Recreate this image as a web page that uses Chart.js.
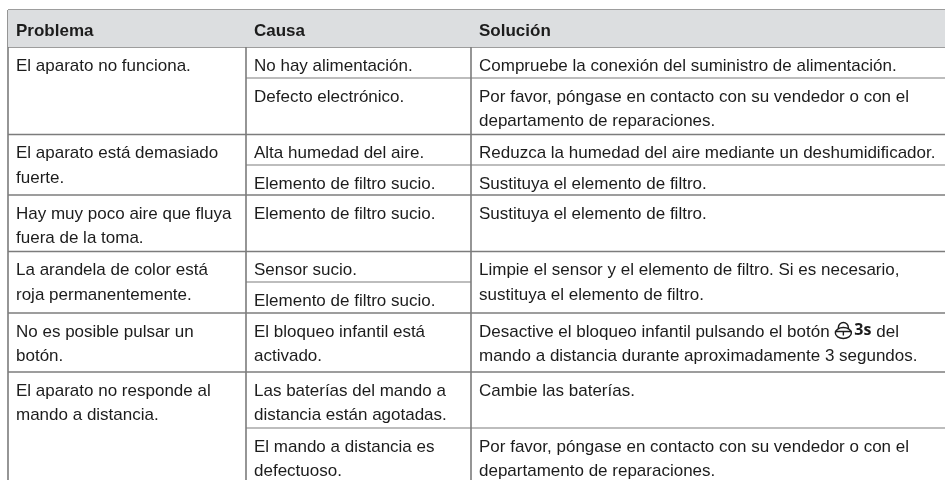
<!DOCTYPE html>
<html>
<head>
<meta charset="utf-8">
<style>
    html, body { margin: 0; padding: 0; background: #fff; }
    #wrap { width: 945px; height: 480px; }
</style>
<script src="https://cdn.jsdelivr.net/npm/chart.js@4"></script>
</head>
<body>
<div id="wrap"><canvas id="tableChart" width="945" height="480"></canvas></div>
<script>
// ============================================
// Table content
// ============================================

const headers = ['Problema', 'Causa', 'Solución'];

const problems = [
    ['El aparato no funciona.'],
    ['El aparato está demasiado', 'fuerte.'],
    ['Hay muy poco aire que fluya', 'fuera de la toma.'],
    ['La arandela de color está', 'roja permanentemente.'],
    ['No es posible pulsar un', 'botón.'],
    ['El aparato no responde al', 'mando a distancia.']
];

const causes = [
    ['No hay alimentación.'],
    ['Defecto electrónico.'],
    ['Alta humedad del aire.'],
    ['Elemento de filtro sucio.'],
    ['Elemento de filtro sucio.'],
    ['Sensor sucio.'],
    ['Elemento de filtro sucio.'],
    ['El bloqueo infantil está', 'activado.'],
    ['Las baterías del mando a', 'distancia están agotadas.'],
    ['El mando a distancia es', 'defectuoso.']
];

const solutions = [
    ['Compruebe la conexión del suministro de alimentación.'],
    ['Por favor, póngase en contacto con su vendedor o con el', 'departamento de reparaciones.'],
    ['Reduzca la humedad del aire mediante un deshumidificador.'],
    ['Sustituya el elemento de filtro.'],
    ['Sustituya el elemento de filtro.'],
    ['Limpie el sensor y el elemento de filtro. Si es necesario,', 'sustituya el elemento de filtro.'],
    ['Desactive el bloqueo infantil pulsando el botón', 'mando a distancia durante aproximadamente 3 segundos.'],
    ['Cambie las baterías.'],
    ['Por favor, póngase en contacto con su vendedor o con el', 'departamento de reparaciones.']
];

// Glyph that follows the first line of the "Desactive" cell
const buttonLabel = '3s';
const buttonTail = 'del';

// ============================================
// Layout (same units as the axes, 1 unit = 1 px)
// ============================================

const LAYOUT = {
    width: 945,
    height: 480,
    columns: [8, 246, 471],
    top: 10,
    headerBottom: 47,
    problemEdges: [47, 134.5, 195, 251.5, 313, 372],
    causeEdges: [47, 78, 134.5, 165, 195, 251.5, 282, 313, 372, 428],
    solutionEdges: [47, 78, 134.5, 165, 195, 251.5, 313, 372, 428],
    splitsBoth: [78, 165, 428],
    splitsCause: [282],
    textInset: 8,
    firstBaseline: 23.5,
    lineStep: 24.7,
    headerBaseline: 35.5
};

const COLORS = {
    rule: '#7c7c7c',
    header: '#dcdee0',
    text: '#1c1c1c'
};

const FONT_BODY = '17px "Liberation Sans", Arial, sans-serif';
const FONT_HEAD = 'bold 17px "Liberation Sans", Arial, sans-serif';

// ============================================
// Datasets: header band and rules
// ============================================

function ruleDataset(x1, y1, x2, y2, width) {
    return {
        data: [{ x: x1, y: y1 }, { x: x2, y: y2 }],
        showLine: true,
        borderColor: COLORS.rule,
        borderWidth: width,
        pointRadius: 0,
        fill: false
    };
}

const datasets = [{
    // header band
    data: [{ x: LAYOUT.columns[0], y: LAYOUT.headerBottom }, { x: LAYOUT.width, y: LAYOUT.headerBottom }],
    showLine: true,
    borderWidth: 0,
    pointRadius: 0,
    backgroundColor: COLORS.header,
    fill: { value: LAYOUT.top }
}];

datasets.push(ruleDataset(LAYOUT.columns[0], LAYOUT.top, LAYOUT.width, LAYOUT.top, 1.6));
LAYOUT.problemEdges.forEach(y => datasets.push(ruleDataset(LAYOUT.columns[0], y, LAYOUT.width, y, 1.5)));
LAYOUT.splitsBoth.forEach(y => datasets.push(ruleDataset(LAYOUT.columns[1], y, LAYOUT.width, y, 1.1)));
LAYOUT.splitsCause.forEach(y => datasets.push(ruleDataset(LAYOUT.columns[1], y, LAYOUT.columns[2], y, 1.1)));
LAYOUT.columns.forEach(x => datasets.push(ruleDataset(x, LAYOUT.top, x, LAYOUT.height, 1.6)));

// ============================================
// Cell text plugin
// ============================================

const cellText = {
    id: 'cellText',
    afterDatasetsDraw(chart) {
        const { ctx, scales: { x, y } } = chart;
        const drawColumn = (cells, edges, column) => {
            const left = x.getPixelForValue(LAYOUT.columns[column] + LAYOUT.textInset);
            cells.forEach((lines, i) => {
                lines.forEach((line, n) => {
                    const base = edges[i] + LAYOUT.firstBaseline + n * LAYOUT.lineStep;
                    ctx.fillText(line, left, y.getPixelForValue(base));
                });
            });
        };

        ctx.save();
        ctx.fillStyle = COLORS.text;
        ctx.textBaseline = 'alphabetic';

        ctx.font = FONT_HEAD;
        headers.forEach((label, i) => {
            const left = x.getPixelForValue(LAYOUT.columns[i] + LAYOUT.textInset);
            ctx.fillText(label, left, y.getPixelForValue(LAYOUT.headerBaseline));
        });

        ctx.font = FONT_BODY;
        drawColumn(problems, LAYOUT.problemEdges, 0);
        drawColumn(causes, LAYOUT.causeEdges, 1);
        drawColumn(solutions, LAYOUT.solutionEdges, 2);

        // Button glyph after "... el botón"
        const rowTop = LAYOUT.solutionEdges[6];
        const base = y.getPixelForValue(rowTop + LAYOUT.firstBaseline);
        const lineStart = x.getPixelForValue(LAYOUT.columns[2] + LAYOUT.textInset);
        const after = lineStart + ctx.measureText(solutions[6][0] + ' ').width;

        // padlock
        const cx = after + 9;
        const cy = base - 3.5;
        ctx.strokeStyle = COLORS.text;
        ctx.lineWidth = 1.4;
        ctx.beginPath();
        ctx.ellipse(cx, cy, 8, 5.5, 0, 0, Math.PI * 2);
        ctx.moveTo(cx - 8, cy - 1.5);
        ctx.lineTo(cx + 8, cy - 1.5);
        ctx.moveTo(cx, cy - 1.5);
        ctx.lineTo(cx, cy + 2.5);
        ctx.moveTo(cx - 5, cy - 4.5);
        ctx.arc(cx, cy - 5.5, 5, Math.PI, 0);
        ctx.lineTo(cx + 5, cy - 4.5);
        ctx.stroke();

        ctx.font = 'bold 16px "Open Sans", sans-serif';
        ctx.fillText(buttonLabel, cx + 11, base - 2);
        ctx.font = FONT_BODY;
        ctx.fillText(buttonTail, cx + 33, base);

        ctx.restore();
    }
};

// ============================================
// Chart
// ============================================

function initChart() {
    const ctx = document.getElementById('tableChart').getContext('2d');
    new Chart(ctx, {
        type: 'scatter',
        data: { datasets },
        options: {
            responsive: false,
            animation: false,
            clip: false,
            layout: { padding: 0 },
            plugins: {
                legend: { display: false },
                tooltip: { enabled: false },
                title: { display: false }
            },
            scales: {
                x: { type: 'linear', min: 0, max: LAYOUT.width, display: false },
                y: { type: 'linear', min: 0, max: LAYOUT.height, reverse: true, display: false }
            }
        },
        plugins: [cellText]
    });
}

initChart();
</script>
</body>
</html>
